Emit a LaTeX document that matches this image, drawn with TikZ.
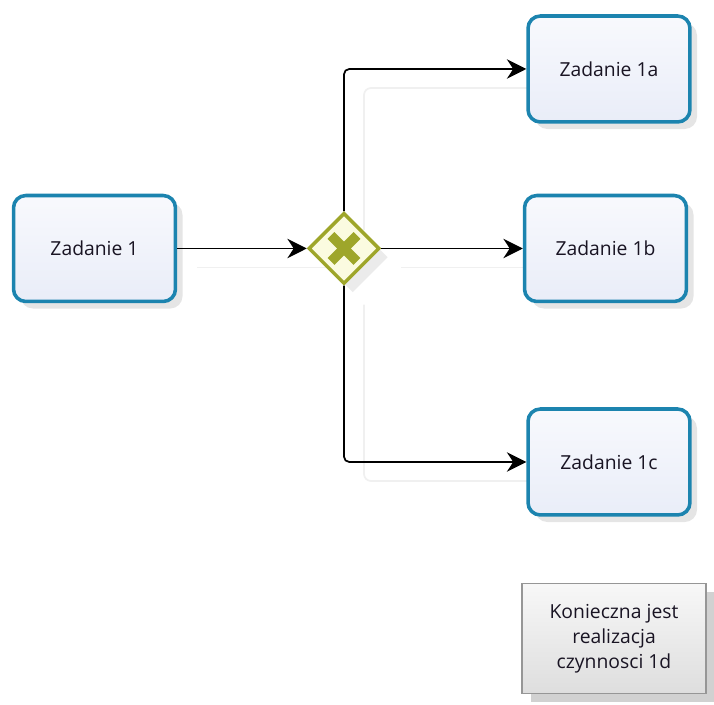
\documentclass[tikz,border=0pt]{standalone}
\usepackage{fontspec}
\setmainfont{Open Sans}
\usepackage{tikz}
\usetikzlibrary{positioning, arrows.meta, shapes.geometric, shadows, backgrounds}
\definecolor{azul}{RGB}{28, 132, 175}
\definecolor{oliva}{RGB}{158, 166, 42}
\definecolor{pajizo}{RGB}{251, 251, 224}
\definecolor{hielo}{RGB}{248, 249, 253}
\definecolor{hielo2}{RGB}{233, 237, 248}
\definecolor{grisnota}{RGB}{150, 150, 150}
\definecolor{tinta}{RGB}{25, 20, 35}
\tikzset{
    task/.style={rectangle, rounded corners=7pt, draw=azul, line width=2pt, top color=hielo, bottom color=hielo2,
                 minimum width=3.24cm, minimum height=2.12cm, text=tinta, font=\fontsize{11}{14}\selectfont,
                 drop shadow={shadow xshift=4pt, shadow yshift=-4pt, opacity=0.1, fill=black}},
    gate/.style={diamond, aspect=1, draw=oliva, line width=2pt, fill=pajizo, minimum size=1.42cm, inner sep=0pt,
                 drop shadow={shadow xshift=5pt, shadow yshift=-5pt, opacity=0.08, fill=black}},
    cross/.style={oliva, line width=5.5pt},
    note/.style={rectangle, draw=grisnota, line width=0.7pt, top color=black!3, bottom color=black!13,
                 minimum width=3.68cm, minimum height=2.2cm, align=center, text=tinta,
                 font=\fontsize{11}{14.2}\selectfont,
                 drop shadow={shadow xshift=5pt, shadow yshift=-5pt, opacity=0.18, fill=black}},
    conn/.style={-{Stealth[length=11pt, width=11pt]}, black, line width=1pt, rounded corners=3pt},
    connShadow/.style={black!6, line width=1pt, rounded corners=4pt,
                       transform canvas={xshift=0.4cm, yshift=-0.38cm}},
}

\begin{document}
\begin{tikzpicture}[x=0.02cm, y=-0.02cm]
    \useasboundingbox (0,0) rectangle (714,705);

    \node[task] (t1) at (94.5,248.5) {Zadanie 1};
    \node[gate] (gw) at (344,248.5) {};
    \draw[cross] ([shift={(-13,-13)}]gw.center) -- ([shift={(13,13)}]gw.center);
    \draw[cross] ([shift={(-13,13)}]gw.center) -- ([shift={(13,-13)}]gw.center);

    \node[task] (t1a) at (609,69) {Zadanie 1a};
    \node[task] (t1b) at (605.5,248.5) {Zadanie 1b};
    \node[task] (t1c) at (609,462) {Zadanie 1c};

    \node[note] (n1d) at (614,638.5) {Konieczna jest\\realizacja\\czynnosci 1d};

    \draw[conn] (t1.east) -- (gw.west);
    \draw[conn] (gw.north) |- (t1a.west);
    \draw[conn] (gw.east) -- (t1b.west);
    \draw[conn] (gw.south) |- (t1c.west);

    \begin{pgfonlayer}{background}
        \draw[connShadow] (t1.east) -- (gw.west);
        \draw[connShadow] (gw.north) |- (t1a.west);
        \draw[connShadow] (gw.east) -- (t1b.west);
        \draw[connShadow] (gw.south) |- (t1c.west);
    \end{pgfonlayer}
\end{tikzpicture}
\end{document}
